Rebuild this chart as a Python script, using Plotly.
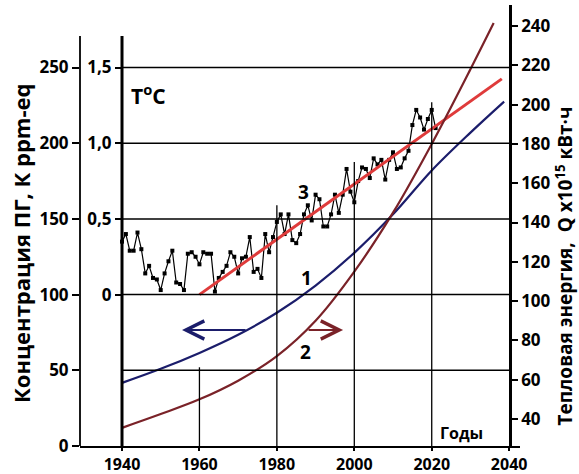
import plotly.graph_objects as go

# ---- data ----
years_T = [1940, 1941, 1942, 1943, 1944, 1945, 1946, 1947, 1948, 1949,
           1950, 1951, 1952, 1953, 1954, 1955, 1956, 1957, 1958, 1959,
           1960, 1961, 1962, 1963, 1964, 1965, 1966, 1967, 1968, 1969,
           1970, 1971, 1972, 1973, 1974, 1975, 1976, 1977, 1978, 1979,
           1980, 1981, 1982, 1983, 1984, 1985, 1986, 1987, 1988, 1989,
           1990, 1991, 1992, 1993, 1994, 1995, 1996, 1997, 1998, 1999,
           2000, 2001, 2002, 2003, 2004, 2005, 2006, 2007, 2008, 2009,
           2010, 2011, 2012, 2013, 2014, 2015, 2016, 2017, 2018, 2019,
           2020, 2021]
temp_T = [0.35, 0.40, 0.29, 0.29, 0.41, 0.30, 0.14, 0.19, 0.11, 0.10,
          0.03, 0.14, 0.22, 0.29, 0.08, 0.07, 0.03, 0.27, 0.28, 0.25,
          0.20, 0.28, 0.27, 0.27, 0.02, 0.11, 0.15, 0.19, 0.28, 0.25,
          0.14, 0.24, 0.25, 0.38, 0.15, 0.17, 0.11, 0.40, 0.28, 0.38,
          0.48, 0.53, 0.40, 0.53, 0.36, 0.34, 0.40, 0.53, 0.59, 0.49,
          0.66, 0.63, 0.45, 0.45, 0.53, 0.66, 0.54, 0.66, 0.83, 0.68,
          0.61, 0.75, 0.84, 0.83, 0.77, 0.90, 0.86, 0.89, 0.76, 0.89,
          0.94, 0.83, 0.84, 0.90, 0.95, 1.12, 1.22, 1.17, 1.09, 1.16,
          1.22, 1.10]

# curve 1: greenhouse gas concentration (left axis, ppm-eq)
years_1 = [1940, 1950, 1960, 1970, 1980, 1990, 2000, 2010, 2020, 2030, 2038.7]
ppm_1 = [41.7, 51, 61.5, 73.5, 88, 106, 127.6, 153, 182, 207, 227.5]

# curve 2: heat energy Q (right axis)
years_2 = [1940, 1950, 1960, 1970, 1980, 1990, 2000, 2010, 2020, 2030, 2036]
q_2 = [35.5, 42.5, 50, 59.5, 72, 90, 115, 145, 180, 218, 241.5]

# line 3: temperature trend
years_3 = [1960, 2038.1]
temp_3 = [0, 1.425]

x_ticks = [1940, 1960, 1980, 2000, 2020, 2040]
ppm_ticks = [0, 50, 100, 150, 200, 250]
t_ticks = [0, 0.5, 1.0, 1.5]
t_ticktext = ["0", "0,5", "1,0", "1,5"]
q_ticks = [40, 60, 80, 100, 120, 140, 160, 180, 200, 220, 240]

# ---- styling ----
FONT = "Open Sans"
BLUE = "#1b1d6b"
MAROON = "#7a2228"
RED = "#df3b3b"

fig = go.Figure()

fig.add_trace(go.Scatter(x=years_1, y=ppm_1, mode="lines", yaxis="y",
                         line=dict(color=BLUE, width=2.2, shape="spline"),
                         showlegend=False, hoverinfo="skip"))
fig.add_trace(go.Scatter(x=years_2, y=q_2, mode="lines", yaxis="y3",
                         line=dict(color=MAROON, width=2.2, shape="spline"),
                         showlegend=False, hoverinfo="skip"))
fig.add_trace(go.Scatter(x=years_T, y=temp_T, mode="lines+markers", yaxis="y2",
                         line=dict(color="black", width=1.2),
                         marker=dict(symbol="square", size=4, color="black"),
                         showlegend=False, hoverinfo="skip"))
fig.add_trace(go.Scatter(x=years_3, y=temp_3, mode="lines", yaxis="y2",
                         line=dict(color=RED, width=3),
                         showlegend=False, hoverinfo="skip"))

tickfont = dict(family=FONT, size=17, color="black", weight="bold")

X0, X1 = 1929.15, 2042.8
fig.update_layout(
    width=579, height=474,
    margin=dict(l=80, r=59, t=5, b=28),
    paper_bgcolor="white", plot_bgcolor="white",
    xaxis=dict(range=[X0, X1], tickvals=x_ticks, showgrid=False, zeroline=False,
               showline=True, linecolor="black", linewidth=2, automargin=False,
               ticks="outside", ticklen=3, tickwidth=2, tickcolor="black",
               tickfont=dict(family=FONT, size=16, color="black", weight="bold")),
    yaxis=dict(range=[0, 291.3], tickvals=ppm_ticks, showgrid=False, zeroline=False,
               showline=False, ticks="outside", ticklen=7, tickwidth=1.5,
               automargin=False, tickcolor="black", tickfont=tickfont),
    yaxis2=dict(range=[-1, 1.913], tickvals=t_ticks, ticktext=t_ticktext,
                overlaying="y", anchor="free", position=42 / 440, side="left",
                showgrid=False, zeroline=False, showline=False, automargin=False,
                ticks="outside", ticklen=7, tickwidth=1.5, tickcolor="black",
                tickfont=tickfont),
    yaxis3=dict(range=[26.26, 250.7], tickvals=q_ticks,
                overlaying="y", anchor="free", position=430 / 440, side="right",
                showgrid=False, zeroline=False, showline=True, linecolor="black",
                linewidth=2.5, ticks="outside", ticklen=6, tickwidth=1.5,
                automargin=False, tickcolor="black", tickfont=tickfont),
)

shapes = []
# horizontal grid lines
for v in [50, 100, 150, 200, 250]:
    shapes.append(dict(type="line", xref="x", yref="y", x0=1940, x1=2040, y0=v, y1=v,
                       line=dict(color="black", width=1.5)))
# vertical grid lines (partial heights)
for xv, top in [(1960, 52), (1980, 159), (2000, 187.6), (2020, 227)]:
    shapes.append(dict(type="line", xref="x", yref="y", x0=xv, x1=xv, y0=0, y1=top,
                       line=dict(color="black", width=1.3)))
# left outer axis line and inner temperature axis line
shapes.append(dict(type="line", xref="paper", yref="y", x0=0, x1=0, y0=0, y1=270.8,
                   line=dict(color="black", width=1.8)))
shapes.append(dict(type="line", xref="x", yref="y", x0=1940, x1=1940, y0=0, y1=270.8,
                   line=dict(color="black", width=3)))
fig.update_layout(shapes=shapes)

ann = []
ann.append(dict(text="T<sup>o</sup>C", x=1941.8, y=1.32, xref="x", yref="y2",
                xanchor="left", yanchor="middle", showarrow=False,
                font=dict(family=FONT, size=21, color="black", weight="bold")))
lab = dict(family=FONT, size=19, color="black", weight="bold")
ann.append(dict(text="3", x=1986.8, y=0.68, xref="x", yref="y2", showarrow=False, font=lab))
ann.append(dict(text="1", x=1987.6, y=111, xref="x", yref="y", showarrow=False, font=lab))
ann.append(dict(text="2", x=1987.5, y=62, xref="x", yref="y", showarrow=False, font=lab))
ann.append(dict(text="Годы", x=2027.6, y=8.5, xref="x", yref="y", showarrow=False,
                font=dict(family=FONT, size=16, color="black", weight="bold")))
# arrows
ann.append(dict(text="", x=1955.5, y=76.6, ax=1972.3, ay=76.6, xref="x", yref="y",
                axref="x", ayref="y", showarrow=True, arrowhead=5, arrowsize=1.8,
                arrowwidth=2, arrowcolor=BLUE))
ann.append(dict(text="", x=1997.1, y=76.6, ax=1987.8, ay=76.6, xref="x", yref="y",
                axref="x", ayref="y", showarrow=True, arrowhead=5, arrowsize=1.8,
                arrowwidth=2, arrowcolor=MAROON))
# axis titles
ann.append(dict(text="Концентрация ПГ, К ppm-eq", x=-59 / 440, y=(446 - 244) / 441,
                xref="paper", yref="paper", textangle=-90, showarrow=False,
                xanchor="center", yanchor="middle",
                font=dict(family=FONT, size=22, color="black", weight="bold")))
ann.append(dict(text="Тепловая энергия,  Q x10<sup>15</sup> кВт·ч", x=(564.5 - 80) / 440,
                y=(446 - 266) / 441, xref="paper", yref="paper", textangle=-90,
                showarrow=False, xanchor="center", yanchor="middle",
                font=dict(family=FONT, size=19, color="black", weight="bold")))
fig.update_layout(annotations=ann)

fig.write_html("out.html")
